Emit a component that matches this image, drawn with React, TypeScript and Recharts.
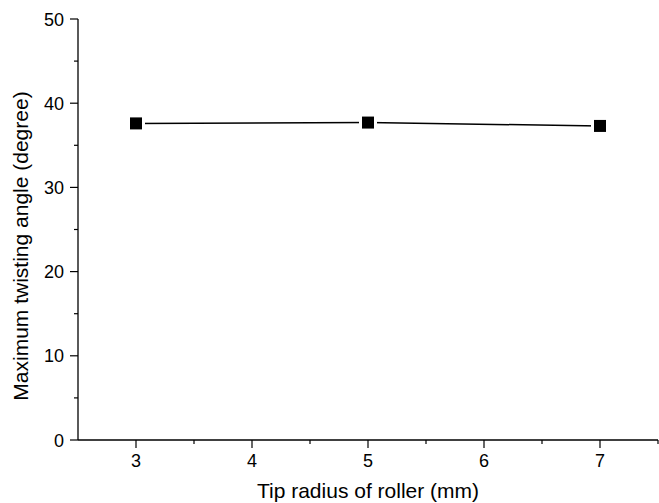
import React from 'react';
import { LineChart, Line, XAxis, YAxis } from 'recharts';

const radii = [3, 5, 7];
const twistAngle = [37.6, 37.7, 37.3];
const xTicks = [3, 3.5, 4, 4.5, 5, 5.5, 6, 6.5, 7, 7.5];
const xMajor = [3, 4, 5, 6, 7];
const yTicks = [0, 5, 10, 15, 20, 25, 30, 35, 40, 45, 50];
const yMajor = [0, 10, 20, 30, 40, 50];

const data = radii.map((r, i) => ({ r, angle: twistAngle[i] }));

const FONT = '"Liberation Sans", Arial, sans-serif';

const XTick = (props: any) => {
  const { x, y, payload } = props;
  const major = xMajor.includes(payload.value);
  return (
    <g>
      <line x1={x} x2={x} y1={y} y2={y + (major ? 8 : 4)} stroke="#000" strokeWidth={1.2} />
      {major && (
        <text x={x} y={y + 27} textAnchor="middle" fontSize={18} fontFamily={FONT} fill="#000">
          {payload.value}
        </text>
      )}
    </g>
  );
};

const YTick = (props: any) => {
  const { x, y, payload } = props;
  const major = yMajor.includes(payload.value);
  return (
    <g>
      <line x1={x} x2={x - (major ? 8 : 4)} y1={y} y2={y} stroke="#000" strokeWidth={1.2} />
      {major && (
        <text x={x - 14} y={y + 6.5} textAnchor="end" fontSize={18} fontFamily={FONT} fill="#000">
          {payload.value}
        </text>
      )}
    </g>
  );
};

const YTitle = () => {
  const cx = 28;
  const cy = 246;
  return (
    <text
      x={cx}
      y={cy}
      transform={`rotate(-90, ${cx}, ${cy})`}
      textAnchor="middle"
      fontSize={21}
      fontFamily={FONT}
      fill="#000"
    >
      Maximum twisting angle (degree)
    </text>
  );
};

const XTitle = (props: any) => {
  const { viewBox } = props;
  const cx = viewBox.x + viewBox.width / 2;
  return (
    <text x={cx} y={498} textAnchor="middle" fontSize={21} fontFamily={FONT} fill="#000">
      Tip radius of roller (mm)
    </text>
  );
};

const SquareDot = (props: any) => {
  const { cx, cy } = props;
  if (cx == null || cy == null) return null;
  const s = 12;
  return (
    <g>
      <rect x={cx - s / 2 - 3} y={cy - s / 2 - 1} width={s + 6} height={s + 2} fill="#fff" />
      <rect x={cx - s / 2} y={cy - s / 2} width={s} height={s} fill="#000" />
    </g>
  );
};

export default function App() {
  return (
    <div style={{ position: 'absolute', left: 0, top: 0, width: 659, height: 503, background: '#fff' }}>
      <LineChart width={659} height={503} data={data} margin={{ top: 19, right: 1, bottom: 0, left: 0 }}>
        <XAxis
          dataKey="r"
          type="number"
          domain={[2.5, 7.5]}
          ticks={xTicks}
          interval={0}
          height={63}
          tickSize={0}
          tickMargin={0}
          tick={<XTick />}
          axisLine={{ stroke: '#000', strokeWidth: 1.3 }}
          label={<XTitle />}
        />
        <YAxis
          type="number"
          domain={[0, 50]}
          ticks={yTicks}
          interval={0}
          width={78}
          tickSize={0}
          tickMargin={0}
          tick={<YTick />}
          axisLine={{ stroke: '#000', strokeWidth: 1.3 }}
          label={<YTitle />}
        />
        <Line
          dataKey="angle"
          stroke="#000"
          strokeWidth={1.5}
          dot={<SquareDot />}
          activeDot={false}
          isAnimationActive={false}
        />
      </LineChart>
    </div>
  );
}
